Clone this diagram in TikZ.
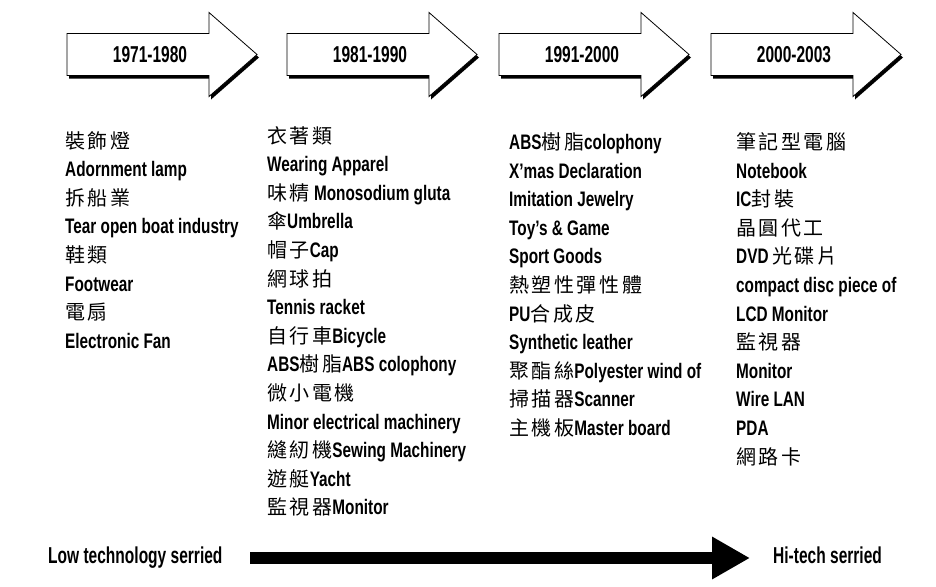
\documentclass[tikz,border=0pt]{standalone}
\usepackage{fontspec}
\setmainfont{Liberation Sans}[FakeStretch=0.73]
\newfontfamily\tallfont{Liberation Sans}[FakeStretch=0.675]
\newfontfamily\cjkfont{Noto Sans CJK TC}[LetterSpace=13]
\newcommand\C[1]{{\cjkfont\fontsize{20}{24}\selectfont\mdseries #1}}
\usetikzlibrary{arrows.meta}

\tikzset{
  item/.style={anchor=base west, inner sep=0pt,
    font=\fontsize{21}{25}\selectfont\bfseries},
  periodbody/.style={fill=white, draw=black, line width=0.8pt, line join=miter},
  periodshadow/.style={fill=black},
  periodlabel/.style={anchor=base, inner sep=0pt,
    font=\tallfont\fontsize{23}{27}\selectfont\bfseries},
  progress/.style={line width=12pt, -{Triangle[length=38pt,width=40pt]}},
  endlabel/.style={anchor=base west, inner sep=0pt,
    font=\tallfont\fontsize{23}{27}\selectfont\bfseries},
  period/.pic={
    \fill[periodshadow, shift={(2,3)}]
      (0,-21) -- (142,-21) -- (142,-42) -- (190,0) -- (142,42) -- (142,21) -- (0,21) -- cycle;
    \filldraw[periodbody]
      (0,-21) -- (142,-21) -- (142,-42) -- (190,0) -- (142,42) -- (142,21) -- (0,21) -- cycle;
    \node[periodlabel] (-label) at (83,8.5) {#1};
  }
}

\begin{document}
\begin{tikzpicture}[x=1pt, y=-1pt]
\useasboundingbox (0,0) rectangle (936,586);

% period arrows along the top
\pic (p1) at (67,54.5)  {period=1971-1980};
\pic (p2) at (287,54.5) {period=1981-1990};
\pic (p3) at (499,54.5) {period=1991-2000};
\pic (p4) at (711,54.5) {period=2000-2003};

% product lists, one column per period
\foreach \t [count=\i] in {
  {\C{裝飾燈}}, Adornment lamp, {\C{拆船業}}, Tear open boat industry,
  {\C{鞋類}}, Footwear, {\C{電扇}}, Electronic Fan}
  \node[item] (a\i) at (65,{148+28.6*(\i-1)}) {\t};

\foreach \t [count=\i] in {
  {\C{衣著類}}, Wearing Apparel, {\C{味精} Monosodium gluta}, {\C{傘}Umbrella},
  {\C{帽子}Cap}, {\C{網球拍}}, Tennis racket, {\C{自行車}Bicycle},
  {ABS\C{樹脂}ABS colophony}, {\C{微小電機}}, Minor electrical machinery,
  {\C{縫紉機}Sewing Machinery}, {\C{遊艇}Yacht}, {\C{監視器}Monitor}}
  \node[item] (b\i) at (267,{143+28.6*(\i-1)}) {\t};

\foreach \t [count=\i] in {
  {ABS\C{樹脂}colophony}, X’mas Declaration, Imitation Jewelry, Toy’s \& Game,
  Sport Goods, {\C{熱塑性彈性體}}, {PU\C{合成皮}}, Synthetic leather,
  {\C{聚酯絲}Polyester wind of}, {\C{掃描器}Scanner}, {\C{主機板}Master board}}
  \node[item] (c\i) at (509,{149.5+28.6*(\i-1)}) {\t};

\foreach \t [count=\i] in {
  {\C{筆記型電腦}}, Notebook, {IC\C{封裝}}, {\C{晶圓代工}}, {DVD\,\C{光碟片}},
  compact disc piece of, LCD Monitor, {\C{監視器}}, Monitor, Wire LAN, PDA,
  {\C{網路卡}}}
  \node[item] (d\i) at (736,{149.5+28.6*(\i-1)}) {\t};

% technology scale at the bottom
\node[endlabel] (lowtxt) at (48,563) {Low technology serried};
\node[endlabel] (hitxt) at (773,563) {Hi-tech serried};
\coordinate (barstart) at (250,558);
\coordinate (barend) at (750,558);
\draw[progress] (barstart) -- (barend);
\end{tikzpicture}
\end{document}
